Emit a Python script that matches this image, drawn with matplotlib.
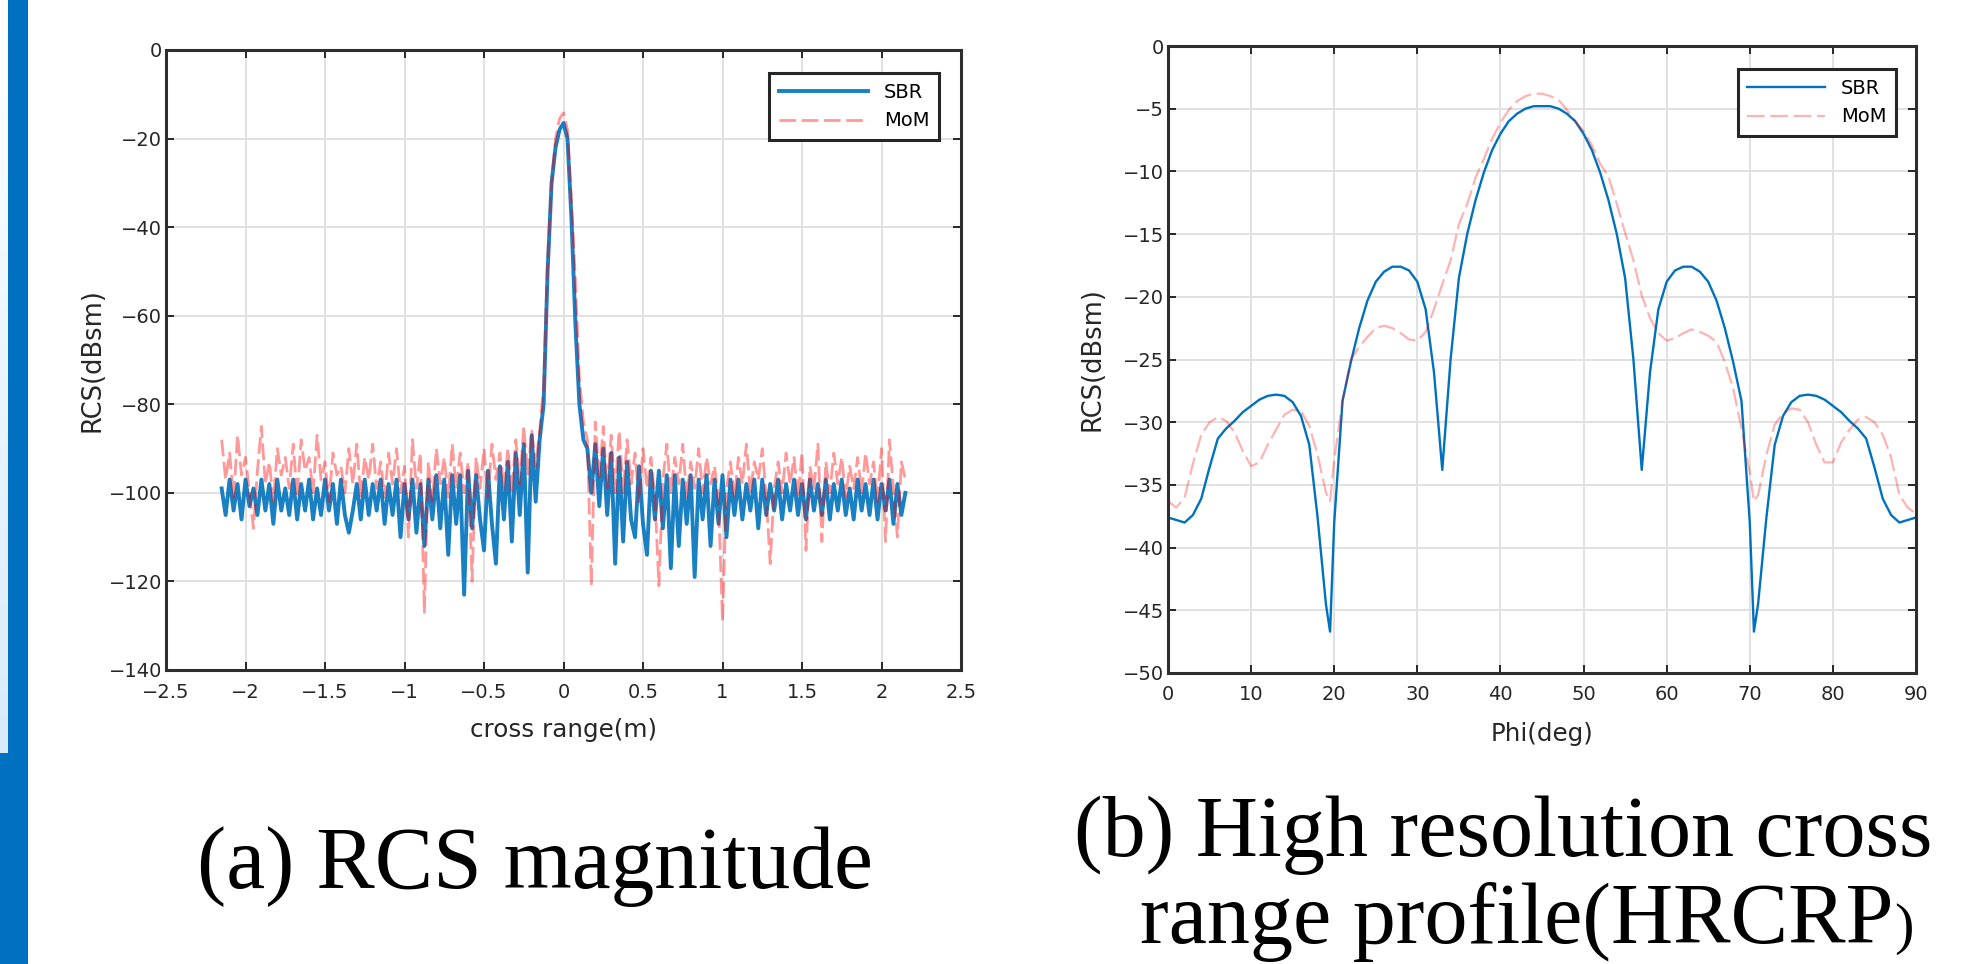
import numpy as np
import matplotlib
matplotlib.use("Agg")
import matplotlib.pyplot as plt
from matplotlib.patches import Rectangle
from matplotlib.colors import LinearSegmentedColormap

# ---------------- data ----------------
# (a) RCS magnitude vs cross range, samples evenly spread between these ends
cross_start = -2.15
cross_stop = 2.15

sbr_cross = [
    -99, -105, -97, -104, -98, -106, -97, -103, -99, -105,
    -97, -104, -98, -107, -97, -104, -99, -105, -97, -106,
    -98, -104, -97, -106, -99, -105, -97, -104, -98, -107,
    -97, -105, -109, -104, -98, -106, -97, -105, -98, -104,
    -97, -107, -98, -105, -97, -110, -98, -106, -97, -109,
    -98, -112, -97, -106, -96, -108, -97, -114, -96, -107,
    -96, -123, -95, -108, -96, -106, -113, -95, -107, -116,
    -94, -106, -93, -111, -91, -105, -89, -118, -87, -102,
    -88, -80, -50, -30, -22, -18,
    -16.5,
    -20, -38, -62, -80, -88, -90,
    -100, -89, -103, -90, -105, -91, -116,
    -92, -111, -93, -106, -110, -94, -107, -114, -95, -106,
    -95, -108, -96, -117, -96, -112, -97, -107, -96, -119,
    -97, -106, -96, -112, -97, -107, -96, -110, -97, -105,
    -97, -106, -98, -104, -97, -108, -97, -105, -98, -104,
    -97, -106, -98, -104, -97, -105, -98, -106, -97, -104,
    -98, -105, -97, -106, -98, -104, -97, -105, -99, -106,
    -97, -104, -98, -105, -97, -106, -98, -104, -97, -107,
    -98, -105, -100,
]

mom_cross = [
    -88, -97, -91, -101, -87, -96, -92, -100, -108, -95,
    -85, -98, -93, -102, -90, -96, -92, -99, -89, -101,
    -88, -95, -92, -100, -87, -97, -93, -102, -91, -96,
    -94, -100, -90, -98, -89, -101, -92, -97, -89, -99,
    -93, -101, -91, -98, -90, -100, -94, -110, -88, -99,
    -91, -127, -93, -102, -90, -98, -92, -101, -89, -99,
    -91, -100, -93, -120, -92, -99, -90, -101, -89, -97,
    -91, -99, -90, -100, -88, -98, -85, -96, -86, -94,
    -86, -76, -48, -30, -20, -15.5,
    -14.2,
    -18, -34, -52, -74, -84, -88,
    -121, -84, -97, -85, -99, -87, -100,
    -86, -100, -88, -98, -91, -102, -90, -99, -92, -101,
    -121, -97, -89, -100, -92, -98, -89, -101, -93, -99,
    -90, -100, -92, -98, -94, -102, -129, -99, -93, -101,
    -92, -98, -89, -100, -93, -97, -90, -101, -116, -99,
    -93, -100, -91, -98, -92, -101, -91, -113, -94, -99,
    -89, -111, -93, -100, -91, -98, -92, -101, -94, -99,
    -92, -100, -91, -98, -93, -102, -90, -111, -88, -99,
    -110, -93, -97,
]

# (b) HRCRP vs Phi
phi_deg = list(range(0, 20)) + [19.5] + list(range(20, 71)) + [70.5] + list(range(71, 91))

sbr_phi = [
    -37.6, -37.8, -38.0, -37.4, -36.1, -33.6, -31.3, -30.5, -29.9, -29.2,
    -28.7, -28.2, -27.9, -27.8, -27.9, -28.4, -29.5, -31.8, -37.6, -44.5,
    -46.7,
    -38.0, -28.3, -25.2, -22.5, -20.3, -18.8, -18.0, -17.6, -17.6, -17.9,
    -18.8, -21.0, -26.0, -33.8, -25.0, -18.5, -15.0, -12.3, -10.1, -8.3,
    -7.0, -6.0, -5.4, -5.0, -4.8, -4.8, -4.8, -5.0, -5.4, -6.0,
    -7.0, -8.3, -10.1, -12.3, -15.0, -18.5, -25.0, -33.8, -26.0, -21.0,
    -18.8, -17.9, -17.6, -17.6, -18.0, -18.8, -20.3, -22.5, -25.2, -28.3,
    -38.0,
    -46.7,
    -44.5, -37.6, -31.8, -29.5, -28.4, -27.9, -27.8, -27.9, -28.2,
    -28.7, -29.2, -29.9, -30.5, -31.3, -33.6, -36.1, -37.4, -38.0, -37.8, -37.6,
]

mom_phi = [
    -36.3, -36.8, -36.0, -33.3, -31.0, -30.0, -29.6, -29.9, -30.8, -32.3,
    -33.5, -33.2, -31.8, -30.6, -29.4, -29.0, -29.1, -30.3, -32.6, -35.6,
    -36.3,
    -33.0, -28.3, -25.0, -24.0, -23.2, -22.5, -22.3, -22.5, -22.9, -23.4,
    -23.5, -22.8, -21.0, -19.0, -17.1, -14.2, -12.6, -10.5, -9.0, -7.4,
    -6.1, -5.1, -4.4, -4.0, -3.8, -3.8, -4.0, -4.3, -5.1, -6.0,
    -6.8, -7.9, -9.4, -10.4, -12.6, -14.9, -17.1, -19.9, -21.7, -22.9,
    -23.5, -23.3, -22.9, -22.6, -22.8, -23.1, -23.6, -25.2, -27.3, -30.5,
    -34.0,
    -36.3,
    -35.8, -32.6, -30.2, -29.3, -28.9, -29.0, -30.0, -31.8, -33.2,
    -33.2, -31.6, -30.6, -29.8, -29.6, -30.0, -31.0, -32.8, -35.8, -36.8, -37.3,
]

cross_ticks = [-2.5, -2, -1.5, -1, -0.5, 0, 0.5, 1, 1.5, 2, 2.5]
cross_tick_labels = ["\u22122.5", "\u22122", "\u22121.5", "\u22121", "\u22120.5", "0",
                     "0.5", "1", "1.5", "2", "2.5"]
rcs_ticks_a = [0, -20, -40, -60, -80, -100, -120, -140]
rcs_labels_a = ["0", "\u221220", "\u221240", "\u221260", "\u221280", "\u2212100", "\u2212120", "\u2212140"]
phi_ticks = [0, 10, 20, 30, 40, 50, 60, 70, 80, 90]
phi_tick_labels = ["0", "10", "20", "30", "40", "50", "60", "70", "80", "90"]
rcs_ticks_b = [0, -5, -10, -15, -20, -25, -30, -35, -40, -45, -50]
rcs_labels_b = ["0", "\u22125", "\u221210", "\u221215", "\u221220", "\u221225", "\u221230",
                "\u221235", "\u221240", "\u221245", "\u221250"]
legend_labels = ["SBR", "MoM"]

BLUE = "#0072bd"
W, H = 1966, 964


def style_axes(ax):
    ax.grid(True, color="#e1e1e1", lw=1.4)
    ax.set_axisbelow(True)
    for sp in ax.spines.values():
        sp.set_linewidth(2.2)
        sp.set_color("#2e2e2e")
    ax.tick_params(direction="in", length=6, width=1.4, top=True, right=True,
                   labelsize=14, colors="#262626")
    ax.tick_params(axis="x", pad=9)
    ax.tick_params(axis="y", pad=3)


fig = plt.figure(figsize=(W / 100, H / 100), dpi=100)

# page decoration on the left edge
bg = fig.add_axes([0, 0, 1, 1], zorder=-5)
pale = LinearSegmentedColormap.from_list("pale", ["#ffffff", "#d8ebfb"])
bg.imshow(np.linspace(0, 1, 256).reshape(-1, 1), extent=(0, 8, 753, 0), cmap=pale, aspect="auto")
bg.add_patch(Rectangle((8, 0), 20, H, color="#0070c0", lw=0))
bg.add_patch(Rectangle((0, 753), 8, H - 753, color="#0070c0", lw=0))
bg.set_xlim(0, W)
bg.set_ylim(H, 0)
bg.axis("off")

# ---- (a) ----
ax1 = fig.add_axes([166 / W, 1 - 670 / H, 795 / W, 620 / H])
x_cross = np.linspace(cross_start, cross_stop, len(sbr_cross))
ax1.plot(x_cross, sbr_cross, color=BLUE, lw=2.8, alpha=0.9, label=legend_labels[0])
ax1.plot(x_cross, mom_cross, color="red", lw=2.0, alpha=0.4, ls=(0, (6, 2)), label=legend_labels[1])
ax1.set_xlim(-2.5, 2.5)
ax1.set_ylim(-140, 0)
ax1.set_xticks(cross_ticks)
ax1.set_xticklabels(cross_tick_labels)
ax1.set_yticks(rcs_ticks_a)
ax1.set_yticklabels(rcs_labels_a)
style_axes(ax1)
ax1.set_xlabel("cross range(m)", fontsize=17.7, color="#262626")
ax1.xaxis.set_label_coords(0.5, -0.078)
ax1.set_ylabel("RCS(dBsm)", fontsize=18.5, color="#262626")
ax1.yaxis.set_label_coords(-0.076, 0.5)
leg1 = ax1.legend(loc="upper right", bbox_to_anchor=(1 - 22 / 795, 1 - 23 / 620), borderaxespad=0,
                  fontsize=14, handlelength=4.6, handletextpad=0.8, borderpad=0.5,
                  labelspacing=0.5, fancybox=False, framealpha=1, edgecolor="#262626")
leg1.get_frame().set_linewidth(2.2)

# ---- (b) ----
ax2 = fig.add_axes([1168 / W, 1 - 673 / H, 748 / W, 627 / H])
ax2.plot(phi_deg, sbr_phi, color=BLUE, lw=1.7, label=legend_labels[0])
ax2.plot(phi_deg, mom_phi, color="red", lw=1.6, alpha=0.3, ls=(0, (8, 2.5)), label=legend_labels[1])
ax2.set_xlim(0, 90)
ax2.set_ylim(-50, 0)
ax2.set_xticks(phi_ticks)
ax2.set_xticklabels(phi_tick_labels)
ax2.set_yticks(rcs_ticks_b)
ax2.set_yticklabels(rcs_labels_b)
style_axes(ax2)
ax2.set_xlabel("Phi(deg)", fontsize=17.7, color="#262626")
ax2.xaxis.set_label_coords(0.5, -0.078)
ax2.set_ylabel("RCS(dBsm)", fontsize=18.5, color="#262626")
ax2.yaxis.set_label_coords(-0.083, 0.5)
leg2 = ax2.legend(loc="upper right", bbox_to_anchor=(1 - 20 / 748, 1 - 23 / 627), borderaxespad=0,
                  fontsize=14, handlelength=4.0, handletextpad=0.8, borderpad=0.5,
                  labelspacing=0.5, fancybox=False, framealpha=1, edgecolor="#262626")
leg2.get_frame().set_linewidth(2.2)

# captions
cap = dict(family="Liberation Serif", color="black")
fig.text(535 / W, 1 - 888 / H, "(a) RCS magnitude", fontsize=63, ha="center", va="baseline", **cap)
fig.text(1503 / W, 1 - 856 / H, "(b) High resolution cross", fontsize=62, ha="center", va="baseline", **cap)
fig.text(1893 / W, 1 - 943 / H, "range profile(HRCRP", fontsize=62, ha="right", va="baseline", **cap)
fig.text(1894 / W, 1 - 943 / H, ")", fontsize=42, ha="left", va="baseline", **cap)

fig.savefig("out.png", dpi=100)
